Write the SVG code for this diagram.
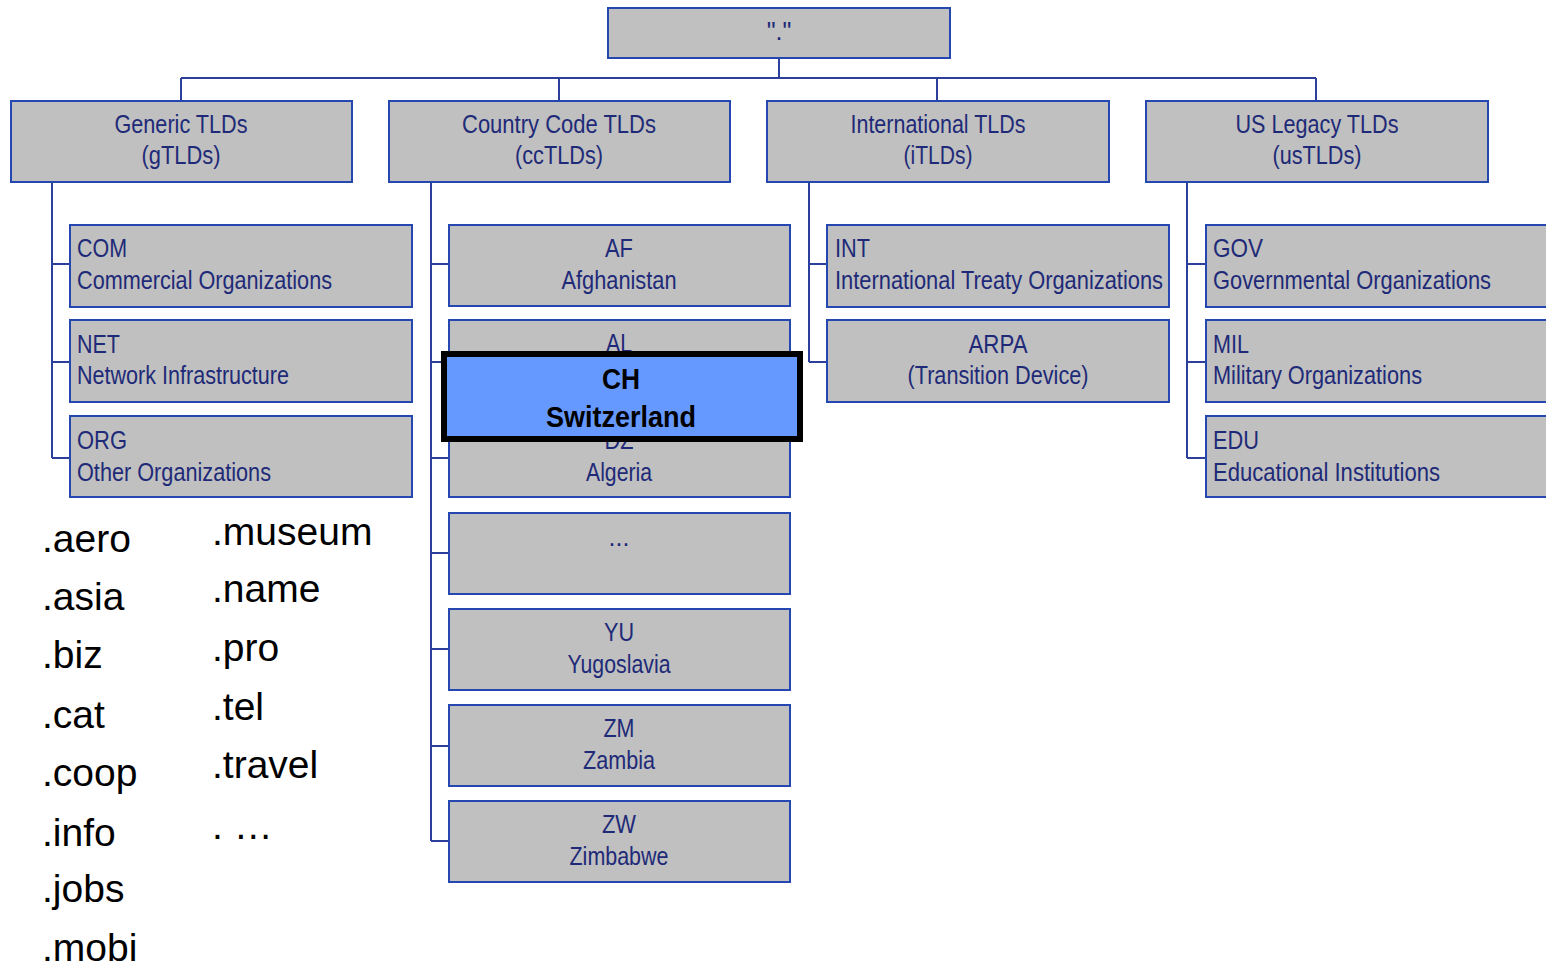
<svg xmlns="http://www.w3.org/2000/svg" width="1546" height="965" viewBox="0 0 1546 965">
<style>
.box{fill:#c0c0c0;stroke:#2548b0;stroke-width:2}
.t{font-family:"Liberation Sans",Arial,sans-serif;font-size:25px;fill:#1e2a78}
.c{text-anchor:middle}
.ln{fill:none;stroke:#2c3f9c;stroke-width:2}
.big{font-family:"Liberation Sans",Arial,sans-serif;font-size:39px;fill:#000}
.hl{fill:#6699ff;stroke:#000;stroke-width:6}
.hb{font-family:"Liberation Sans",Arial,sans-serif;font-size:29px;font-weight:bold;fill:#000;text-anchor:middle}
</style>
<rect width="1546" height="965" fill="#fff"/>
<g id="connectors">
<path class="ln" d="M779 58V78M181 78H1316M181 78V101M559 78V101M937 78V101M1316 78V101"/>
<path class="ln" d="M52 182V458M52 264H70M52 362H70M52 458H70"/>
<path class="ln" d="M431 182V841M431 264H449M431 362H449M431 458H449M431 553H449M431 649H449M431 746H449M431 841H449"/>
<path class="ln" d="M809 182V362M809 264H827M809 362H827"/>
<path class="ln" d="M1187 182V458M1187 264H1206M1187 362H1206M1187 458H1206"/>
</g>
<g id="root"><rect class="box" x="608" y="8" width="342" height="50"/><text class="t c" x="779" y="40">"."</text></g>
<g id="gtld"><rect class="box" x="11" y="101" width="341" height="81"/><text class="t c" x="181" y="133" textLength="133" lengthAdjust="spacingAndGlyphs">Generic TLDs</text><text class="t c" x="181" y="164" textLength="79" lengthAdjust="spacingAndGlyphs">(gTLDs)</text></g>
<g id="cctld"><rect class="box" x="389" y="101" width="341" height="81"/><text class="t c" x="559" y="133" textLength="194" lengthAdjust="spacingAndGlyphs">Country Code TLDs</text><text class="t c" x="559" y="164" textLength="88" lengthAdjust="spacingAndGlyphs">(ccTLDs)</text></g>
<g id="itld"><rect class="box" x="767" y="101" width="342" height="81"/><text class="t c" x="938" y="133" textLength="175" lengthAdjust="spacingAndGlyphs">International TLDs</text><text class="t c" x="938" y="164" textLength="69" lengthAdjust="spacingAndGlyphs">(iTLDs)</text></g>
<g id="ustld"><rect class="box" x="1146" y="101" width="342" height="81"/><text class="t c" x="1317" y="133" textLength="163" lengthAdjust="spacingAndGlyphs">US Legacy TLDs</text><text class="t c" x="1317" y="164" textLength="89" lengthAdjust="spacingAndGlyphs">(usTLDs)</text></g>

<g id="com"><rect class="box" x="70" y="225" width="342" height="82"/><text class="t" x="77" y="257" textLength="50" lengthAdjust="spacingAndGlyphs">COM</text><text class="t" x="77" y="289" textLength="255" lengthAdjust="spacingAndGlyphs">Commercial Organizations</text></g>
<g id="net"><rect class="box" x="70" y="320" width="342" height="82"/><text class="t" x="77" y="353" textLength="43" lengthAdjust="spacingAndGlyphs">NET</text><text class="t" x="77" y="384" textLength="212" lengthAdjust="spacingAndGlyphs">Network Infrastructure</text></g>
<g id="org"><rect class="box" x="70" y="416" width="342" height="81"/><text class="t" x="77" y="449" textLength="50" lengthAdjust="spacingAndGlyphs">ORG</text><text class="t" x="77" y="481" textLength="194" lengthAdjust="spacingAndGlyphs">Other Organizations</text></g>

<g id="af"><rect class="box" x="449" y="225" width="341" height="81"/><text class="t c" x="619" y="257" textLength="28" lengthAdjust="spacingAndGlyphs">AF</text><text class="t c" x="619" y="289" textLength="115" lengthAdjust="spacingAndGlyphs">Afghanistan</text></g>
<g id="al"><rect class="box" x="449" y="320" width="341" height="82"/><text class="t c" x="619" y="352" textLength="26" lengthAdjust="spacingAndGlyphs">AL</text></g>
<g id="dz"><rect class="box" x="449" y="416" width="341" height="81"/><text class="t c" x="619" y="449" textLength="29" lengthAdjust="spacingAndGlyphs">DZ</text><text class="t c" x="619" y="481" textLength="66" lengthAdjust="spacingAndGlyphs">Algeria</text></g>
<g id="more"><rect class="box" x="449" y="513" width="341" height="81"/><text class="t c" x="619" y="546" font-size="16">...</text></g>
<g id="yu"><rect class="box" x="449" y="609" width="341" height="81"/><text class="t c" x="619" y="641" textLength="30" lengthAdjust="spacingAndGlyphs">YU</text><text class="t c" x="619" y="673" textLength="103" lengthAdjust="spacingAndGlyphs">Yugoslavia</text></g>
<g id="zm"><rect class="box" x="449" y="705" width="341" height="81"/><text class="t c" x="619" y="737" textLength="31" lengthAdjust="spacingAndGlyphs">ZM</text><text class="t c" x="619" y="769" textLength="72" lengthAdjust="spacingAndGlyphs">Zambia</text></g>
<g id="zw"><rect class="box" x="449" y="801" width="341" height="81"/><text class="t c" x="619" y="833" textLength="34" lengthAdjust="spacingAndGlyphs">ZW</text><text class="t c" x="619" y="865" textLength="99" lengthAdjust="spacingAndGlyphs">Zimbabwe</text></g>

<g id="int"><rect class="box" x="827" y="225" width="342" height="82"/><text class="t" x="835" y="257" textLength="35" lengthAdjust="spacingAndGlyphs">INT</text><text class="t" x="835" y="289" textLength="328" lengthAdjust="spacingAndGlyphs">International Treaty Organizations</text></g>
<g id="arpa"><rect class="box" x="827" y="320" width="342" height="82"/><text class="t c" x="998" y="353" textLength="59" lengthAdjust="spacingAndGlyphs">ARPA</text><text class="t c" x="998" y="384" textLength="181" lengthAdjust="spacingAndGlyphs">(Transition Device)</text></g>

<g id="gov"><rect class="box" x="1206" y="225" width="344" height="82"/><text class="t" x="1213" y="257" textLength="50" lengthAdjust="spacingAndGlyphs">GOV</text><text class="t" x="1213" y="289" textLength="278" lengthAdjust="spacingAndGlyphs">Governmental Organizations</text></g>
<g id="mil"><rect class="box" x="1206" y="320" width="344" height="82"/><text class="t" x="1213" y="353" textLength="36" lengthAdjust="spacingAndGlyphs">MIL</text><text class="t" x="1213" y="384" textLength="209" lengthAdjust="spacingAndGlyphs">Military Organizations</text></g>
<g id="edu"><rect class="box" x="1206" y="416" width="344" height="81"/><text class="t" x="1213" y="449" textLength="46" lengthAdjust="spacingAndGlyphs">EDU</text><text class="t" x="1213" y="481" textLength="227" lengthAdjust="spacingAndGlyphs">Educational Institutions</text></g>

<g id="ch"><rect class="hl" x="444" y="354" width="356" height="85"/><text class="hb" x="621" y="389" textLength="38" lengthAdjust="spacingAndGlyphs">CH</text><text class="hb" x="621" y="427" textLength="150" lengthAdjust="spacingAndGlyphs">Switzerland</text></g>

<g id="gtld-list">
<text class="big" x="42" y="552">.aero</text>
<text class="big" x="42" y="610">.asia</text>
<text class="big" x="42" y="668">.biz</text>
<text class="big" x="42" y="728">.cat</text>
<text class="big" x="42" y="786">.coop</text>
<text class="big" x="42" y="846">.info</text>
<text class="big" x="42" y="902">.jobs</text>
<text class="big" x="42" y="961">.mobi</text>
<text class="big" x="212" y="545">.museum</text>
<text class="big" x="212" y="602">.name</text>
<text class="big" x="212" y="661">.pro</text>
<text class="big" x="212" y="720">.tel</text>
<text class="big" x="212" y="778">.travel</text>
<text class="big" x="212" y="839">. …</text>
</g>
</svg>
